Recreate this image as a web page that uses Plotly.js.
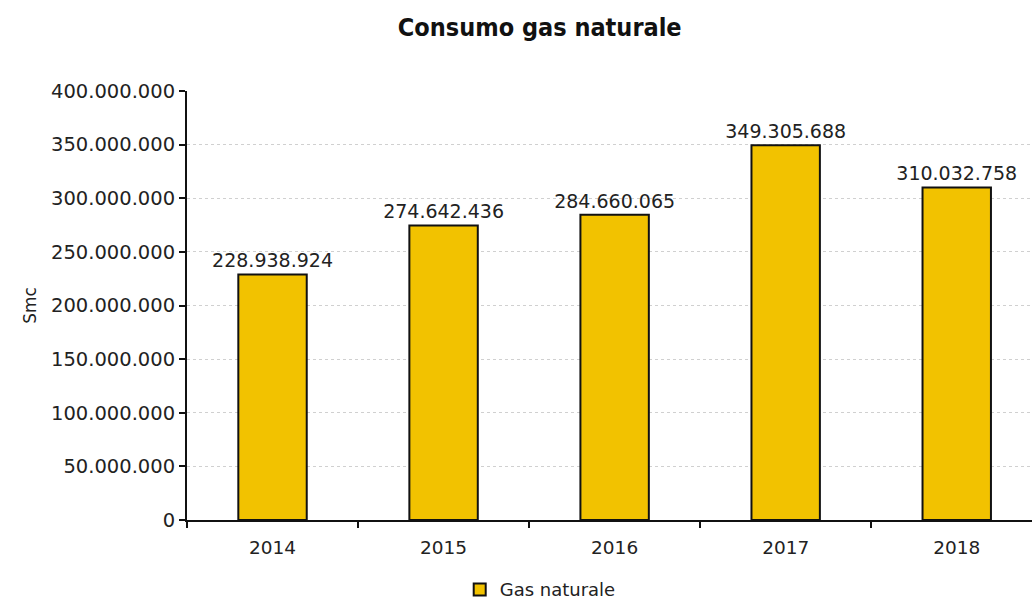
<!DOCTYPE html>
<html>
<head>
<meta charset="utf-8">
<script src="https://cdn.plot.ly/plotly-3.0.1.min.js"></script>
<style>html,body{margin:0;padding:0;background:#fff;}#chart{width:1032px;height:608px;}</style>
</head>
<body>
<div id="chart"></div>
<script>
const years = ['2014', '2015', '2016', '2017', '2018'];
const gasNaturale = [228938924, 274642436, 284660065, 349305688, 310032758];
const yTickVals = [0, 50000000, 100000000, 150000000, 200000000, 250000000, 300000000, 350000000, 400000000];
const yTickText = ['0', '50.000.000', '100.000.000', '150.000.000', '200.000.000', '250.000.000', '300.000.000', '350.000.000', '400.000.000'];

const font = 'Verdana, "DejaVu Sans", sans-serif';

const trace = {
  type: 'bar',
  name: 'Gas naturale',
  x: years,
  y: gasNaturale,
  width: 0.4,
  marker: {color: '#f2c200', line: {color: '#111111', width: 2}},
  texttemplate: '%{y:,}',
  textposition: 'outside',
  constraintext: 'none',
  cliponaxis: false,
  textfont: {family: font, size: 19, color: '#222'},
  hoverinfo: 'none'
};

const layout = {
  width: 1032,
  height: 608,
  separators: ',.',
  paper_bgcolor: '#ffffff',
  plot_bgcolor: '#ffffff',
  margin: {l: 187, r: 0, t: 91, b: 88},
  title: {
    text: '<b>Consumo gas naturale</b>',
    font: {family: 'Tahoma, "DejaVu Sans Condensed", "DejaVu Sans", sans-serif', size: 25, color: '#111'},
    x: 0.523, xref: 'container', xanchor: 'center',
    y: 0.955, yref: 'container', yanchor: 'middle'
  },
  xaxis: {
    type: 'category',
    range: [-0.5, 4.44],
    showline: true, linecolor: '#111', linewidth: 2,
    ticks: 'outside', tickson: 'boundaries', ticklen: 6, tickcolor: '#111', tickwidth: 2,
    ticklabelstandoff: 10,
    tickfont: {family: font, size: 18.5, color: '#222'},
    showgrid: false, zeroline: false
  },
  yaxis: {
    range: [0, 400000000],
    tickvals: yTickVals,
    ticktext: yTickText,
    showline: true, linecolor: '#111', linewidth: 2,
    ticks: 'outside', ticklen: 6, tickcolor: '#111', tickwidth: 2,
    tickfont: {family: font, size: 19.5, color: '#222'},
    showgrid: true, gridcolor: '#d0d0d0', griddash: 'dot', gridwidth: 1,
    zeroline: false,
    title: {text: 'Smc', font: {family: font, size: 17, color: '#222'}, standoff: 10}
  },
  showlegend: true,
  legend: {
    orientation: 'h',
    x: 0.418, xanchor: 'center',
    y: 0.03, yref: 'container', yanchor: 'middle',
    itemwidth: 30,
    font: {family: font, size: 18, color: '#222'}
  },
  bargap: 0.6
};

Plotly.newPlot('chart', [trace], layout, {staticPlot: true, displayModeBar: false});
</script>
</body>
</html>
